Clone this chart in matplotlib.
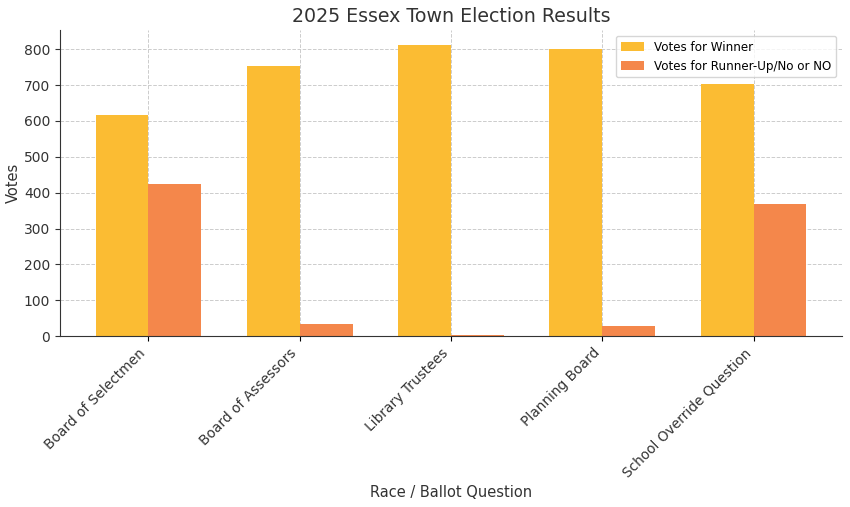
import numpy as np
import matplotlib
matplotlib.use("Agg")
import matplotlib.pyplot as plt

races = ["Board of Selectmen", "Board of Assessors", "Library Trustees",
         "Planning Board", "School Override Question"]
winner_votes = [618, 752, 811, 800, 703]
runner_votes = [424, 35, 2, 27, 369]

x = np.arange(len(races))
width = 0.35

fig, ax = plt.subplots(figsize=(8.5, 5.07), dpi=100)
ax.bar(x - width / 2, winner_votes, width, color="#fbbc33", label="Votes for Winner", zorder=2)
ax.bar(x + width / 2, runner_votes, width, color="#f4874b", label="Votes for Runner-Up/No or NO", zorder=2)

ax.set_title("2025 Essex Town Election Results", fontsize=13.7, color="#333333")
ax.set_xlabel("Race / Ballot Question", fontsize=10.5, color="#333333")
ax.set_ylabel("Votes", fontsize=10.5, color="#333333", labelpad=2)
ax.set_xticks(x)
ax.set_xticklabels(races, rotation=45, ha="right", fontsize=9.9, color="#333333")
ax.set_yticks(range(0, 801, 100))
ax.tick_params(axis="y", labelsize=10, colors="#333333")
ax.set_ylim(0, 854)
ax.grid(True, linestyle="--", color="#cccccc", linewidth=0.7, zorder=0)
ax.spines["top"].set_visible(False)
ax.spines["right"].set_visible(False)
ax.spines["left"].set_color("#333333")
ax.spines["bottom"].set_color("#333333")
ax.legend(loc="upper right", fontsize=8.6)

fig.subplots_adjust(left=0.0706, right=0.9906, top=0.941, bottom=0.337)
plt.savefig("out.png", dpi=100)
